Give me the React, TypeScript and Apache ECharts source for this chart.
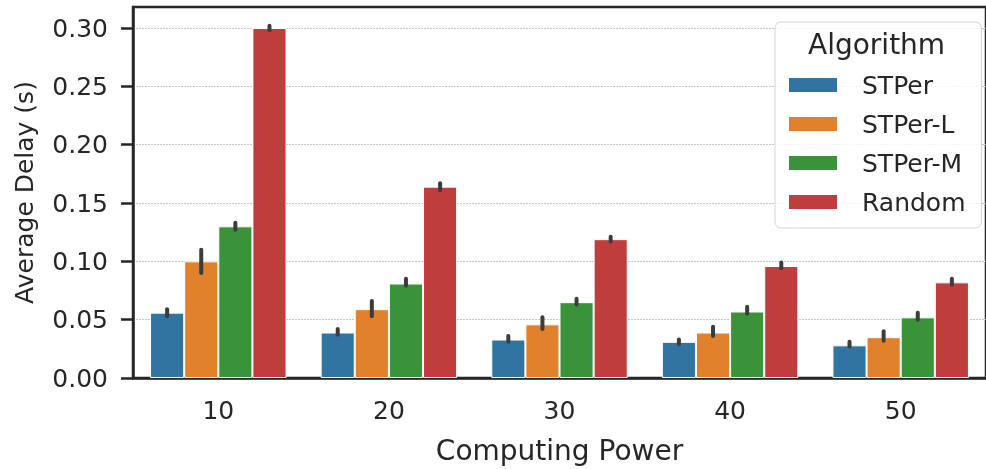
import React, { useEffect, useRef } from "react";
import * as echarts from "echarts";

const categories = ["10", "20", "30", "40", "50"];
const seriesNames = ["STPer", "STPer-L", "STPer-M", "Random"];
const colors = ["#3274a1", "#e1812c", "#3a923a", "#c03d3e"];

const stper = [0.056, 0.039, 0.033, 0.031, 0.028];
const stperLow = [0.053, 0.037, 0.031, 0.029, 0.027];
const stperHigh = [0.059, 0.042, 0.036, 0.033, 0.031];

const stperL = [0.1, 0.059, 0.046, 0.039, 0.035];
const stperLLow = [0.09, 0.053, 0.042, 0.036, 0.032];
const stperLHigh = [0.11, 0.066, 0.052, 0.044, 0.04];

const stperM = [0.13, 0.081, 0.065, 0.057, 0.052];
const stperMLow = [0.127, 0.079, 0.063, 0.055, 0.05];
const stperMHigh = [0.133, 0.085, 0.068, 0.061, 0.056];

const random = [0.3, 0.164, 0.119, 0.096, 0.082];
const randomLow = [0.298, 0.161, 0.117, 0.094, 0.08];
const randomHigh = [0.302, 0.167, 0.121, 0.099, 0.085];

const yTicks = [0, 0.05, 0.1, 0.15, 0.2, 0.25, 0.3];

const values = [stper, stperL, stperM, random];
const lows = [stperLow, stperLLow, stperMLow, randomLow];
const highs = [stperHigh, stperLHigh, stperMHigh, randomHigh];

const FONT = "DejaVu Sans";
const TXT = "#262626";

export default function App() {
  const ref = useRef<HTMLDivElement>(null);
  useEffect(() => {
    const chart = echarts.init(ref.current!, null, { renderer: "svg" });
    const barSeries = seriesNames.map((name, i) => ({
      type: "bar",
      name,
      data: values[i],
      barGap: "0%",
      barCategoryGap: "20%",
      itemStyle: { color: colors[i], borderColor: "#ffffff", borderWidth: 1 },
      z: 2,
    }));
    const errSeries = seriesNames.map((name, si) => ({
      type: "custom",
      name: "err-" + name,
      data: categories.map((_, k) => [k, lows[si][k], highs[si][k]]),
      encode: { x: 0, y: [1, 2] },
      z: 5,
      renderItem: (params: any, api: any) => {
        const barW = (api.size([1, 0])[0] * 0.8) / 4;
        const lo = api.coord([api.value(0), api.value(1)]);
        const hi = api.coord([api.value(0), api.value(2)]);
        const x = lo[0] + (si - 1.5) * barW;
        return {
          type: "line",
          shape: { x1: x, y1: lo[1], x2: x, y2: hi[1] },
          style: { stroke: "#3c3c3c", lineWidth: 4, lineCap: "round" },
        };
      },
    }));
    chart.setOption({
      animation: false,
      grid: {
        left: 133,
        top: 7,
        width: 860,
        height: 374,
        show: true,
        borderColor: TXT,
        borderWidth: 2.5,
        backgroundColor: "transparent",
      },
      legend: {
        data: seriesNames,
        orient: "vertical",
        left: 775,
        top: 22,
        itemWidth: 50,
        itemHeight: 16,
        itemGap: 13,
        padding: [50, 16, 13, 12],
        borderColor: "#d4d4d4",
        borderWidth: 1,
        borderRadius: 6,
        backgroundColor: "rgba(255,255,255,0.8)",
        icon: "rect",
        textStyle: {
          fontFamily: FONT,
          fontSize: 25,
          lineHeight: 26,
          color: TXT,
          padding: [0, 0, 0, 19],
        },
        selectedMode: false,
      },
      graphic: [
        {
          type: "text",
          left: 877 - 69,
          top: 30,
          z: 100,
          style: {
            text: "Algorithm",
            fontFamily: FONT,
            fontSize: 28,
            fill: TXT,
          },
        },
      ],
      xAxis: {
        type: "category",
        data: categories,
        name: "Computing Power",
        nameLocation: "middle",
        nameGap: 58,
        nameTextStyle: { fontFamily: FONT, fontSize: 28, color: TXT },
        axisLine: { lineStyle: { color: TXT, width: 2.5 } },
        axisTick: {
          alignWithLabel: true,
          length: 12,
          lineStyle: { color: TXT, width: 2.5 },
        },
        axisLabel: {
          fontFamily: FONT,
          fontSize: 25,
          color: TXT,
          margin: 20,
        },
      },
      yAxis: {
        type: "value",
        min: 0,
        max: 0.318,
        interval: 0.05,
        name: "Average Delay (s)",
        nameLocation: "middle",
        nameGap: 96,
        nameTextStyle: { fontFamily: FONT, fontSize: 25, color: TXT },
        axisLine: { show: true, lineStyle: { color: TXT, width: 2.5 } },
        axisTick: {
          show: true,
          length: 12,
          customValues: yTicks,
          lineStyle: { color: TXT, width: 2.5 },
        },
        axisLabel: {
          fontFamily: FONT,
          fontSize: 25,
          color: TXT,
          margin: 25,
          customValues: yTicks,
          formatter: (v: number) => v.toFixed(2),
        },
        splitLine: {
          show: true,
          lineStyle: { color: "#c4c7cc", width: 1, type: [2, 1] },
        },
      },
      series: [...barSeries, ...errSeries],
    });
    return () => chart.dispose();
  }, []);
  return (
    <div
      ref={ref}
      style={{ position: "fixed", left: 0, top: 0, width: 986, height: 469 }}
    />
  );
}
